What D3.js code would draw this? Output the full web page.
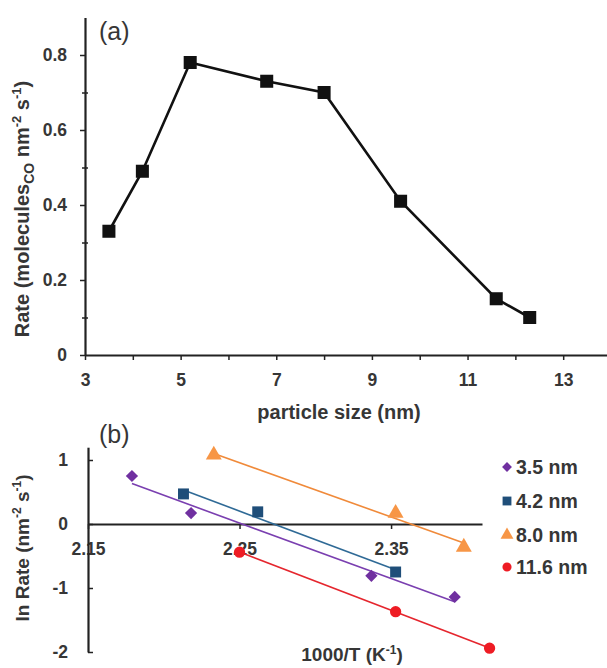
<!DOCTYPE html>
<html><head><meta charset="utf-8">
<script src="https://cdn.jsdelivr.net/npm/d3@7"></script>
<style>
html,body{margin:0;padding:0;background:#fff;}
text{font-family:"Liberation Sans",Arial,sans-serif;}
</style></head>
<body>
<svg id="c" width="607" height="668"></svg>
<script>
// ---- Panel (a) data ----
const particleSize = [3.5, 4.2, 5.2, 6.8, 8.0, 9.6, 11.6, 12.3];
const rateA = [0.33, 0.49, 0.78, 0.73, 0.70, 0.41, 0.15, 0.10];
const xTicksA = [3, 5, 7, 9, 11, 13];
const xMinorA = [4, 6, 8, 10, 12];
const yTicksA = [0, 0.2, 0.4, 0.6, 0.8];
const yMinorA = [0.1, 0.3, 0.5, 0.7];

// ---- Panel (b) data ----
const seriesNames = ["3.5 nm", "4.2 nm", "8.0 nm", "11.6 nm"];
const invT_35 = [2.179, 2.218, 2.337, 2.392];
const lnR_35 = [0.75, 0.17, -0.81, -1.14];
const invT_42 = [2.213, 2.262, 2.353];
const lnR_42 = [0.47, 0.19, -0.75];
const invT_80 = [2.233, 2.353, 2.398];
const lnR_80 = [1.08, 0.17, -0.36];
const invT_116 = [2.250, 2.353, 2.415];
const lnR_116 = [-0.44, -1.37, -1.94];
const xTicksB = [2.15, 2.25, 2.35];
const yTicksB = [1, 0, -1, -2];

const seriesB = [
  {name: seriesNames[0], x: invT_35, y: lnR_35, color: "#7030A0", line: "#7a3fb0", sym: d3.symbolSquare, rot: 45, size: 75},
  {name: seriesNames[1], x: invT_42, y: lnR_42, color: "#1F4E79", line: "#2f6a96", sym: d3.symbolSquare, rot: 0, size: 120},
  {name: seriesNames[2], x: invT_80, y: lnR_80, color: "#F79646", line: "#f08a3a", sym: d3.symbolTriangle, rot: 0, size: 110},
  {name: seriesNames[3], x: invT_116, y: lnR_116, color: "#EE1C24", line: "#e5262e", sym: d3.symbolCircle, rot: 0, size: 100}
];

const svg = d3.select("#c");
const txt = "#363636";

// ================= Panel (a) =================
const xA = d3.scaleLinear().domain([3, 14]).range([85, 611]);
const yA = d3.scaleLinear().domain([0, 0.9]).range([355, 17.5]);

const gA = svg.append("g");
// minor ticks
gA.append("g").attr("transform", `translate(0,${yA(0)})`)
  .call(d3.axisBottom(xA).tickValues(xMinorA).tickSize(5).tickSizeOuter(0).tickFormat(""))
  .call(g => g.select(".domain").remove())
  .selectAll("line").attr("stroke", "#222").attr("stroke-width", 1.5);
gA.append("g").attr("transform", `translate(${xA(3)},0)`)
  .call(d3.axisLeft(yA).tickValues(yMinorA).tickSize(4).tickSizeOuter(0).tickFormat(""))
  .call(g => g.select(".domain").remove())
  .selectAll("line").attr("stroke", "#222").attr("stroke-width", 1.5).attr("x2", 3).attr("x1", -3);

const axXA = gA.append("g").attr("transform", `translate(0,${yA(0)})`)
  .call(d3.axisBottom(xA).tickValues(xTicksA).tickSize(5).tickSizeOuter(0).tickPadding(14).tickFormat(d3.format("d")));
const axYA = gA.append("g").attr("transform", `translate(${xA(3)},0)`)
  .call(d3.axisLeft(yA).tickValues(yTicksA).tickSize(5).tickSizeOuter(0).tickPadding(13).tickFormat(d => d === 0 ? "0" : d3.format(".1f")(d)));
[axXA, axYA].forEach(ax => {
  ax.select(".domain").attr("stroke", "#222").attr("stroke-width", 2.2);
  ax.selectAll(".tick line").attr("stroke", "#222").attr("stroke-width", 1.5);
  ax.selectAll(".tick text").attr("fill", txt).style("font-size", "17.5px").style("font-weight", "bold");
});

const ptsA = particleSize.map((s, i) => [s, rateA[i]]);
gA.append("path").datum(ptsA)
  .attr("fill", "none").attr("stroke", "#111").attr("stroke-width", 2.6)
  .attr("d", d3.line().x(d => xA(d[0])).y(d => yA(d[1])));
gA.selectAll(".mA").data(ptsA).enter().append("path")
  .attr("transform", d => `translate(${xA(d[0])},${yA(d[1])})`)
  .attr("d", d3.symbol().type(d3.symbolSquare).size(170))
  .attr("fill", "#111");

gA.append("text").attr("x", 99).attr("y", 40).attr("fill", txt)
  .style("font-size", "25px").text("(a)");
gA.append("text").attr("x", 339).attr("y", 419).attr("text-anchor", "middle").attr("fill", txt)
  .style("font-size", "20px").style("font-weight", "bold").text("particle size (nm)");

const yLabA = gA.append("text").attr("transform", "translate(29,209) rotate(-90)")
  .attr("text-anchor", "middle").attr("fill", txt)
  .style("font-size", "20px").style("font-weight", "bold");
yLabA.append("tspan").text("Rate (molecules");
yLabA.append("tspan").attr("dy", 5).style("font-size", "14px").text("CO");
yLabA.append("tspan").attr("dy", -5).text(" nm");
yLabA.append("tspan").attr("dy", -8).style("font-size", "13px").text("-2");
yLabA.append("tspan").attr("dy", 8).text(" s");
yLabA.append("tspan").attr("dy", -8).style("font-size", "13px").text("-1");
yLabA.append("tspan").attr("dy", 8).text(")");

// ================= Panel (b) =================
const xB = d3.scaleLinear().domain([2.15, 2.41]).range([88, 482]);
const yB = d3.scaleLinear().domain([-2, 1.2]).range([652, 447.2]);
const gB = svg.append("g");

const axXB = gB.append("g").attr("transform", `translate(0,${yB(0)})`)
  .call(d3.axisBottom(xB).tickValues(xTicksB).tickSize(5).tickSizeOuter(0).tickPadding(14).tickFormat(d3.format(".2f")));
const axYB = gB.append("g").attr("transform", `translate(${xB(2.15)},0)`)
  .call(d3.axisLeft(yB).tickValues(yTicksB).tickSize(-5).tickSizeOuter(0).tickPadding(20).tickFormat(d => d < 0 ? "-" + Math.abs(d) : String(d)));
[axXB, axYB].forEach(ax => {
  ax.select(".domain").attr("stroke", "#222").attr("stroke-width", 2.2);
  ax.selectAll(".tick line").attr("stroke", "#222").attr("stroke-width", 1.5);
  ax.selectAll(".tick text").attr("fill", txt).style("font-size", "17.5px").style("font-weight", "bold");
});

// linear trendlines (least squares, as in the original)
function fit(xs, ys) {
  const mx = d3.mean(xs), my = d3.mean(ys);
  let sxx = 0, sxy = 0;
  xs.forEach((x, i) => { sxx += (x - mx) * (x - mx); sxy += (x - mx) * (ys[i] - my); });
  const b = sxy / sxx, a = my - b * mx;
  const x0 = d3.min(xs), x1 = d3.max(xs);
  return [[x0, a + b * x0], [x1, a + b * x1]];
}
seriesB.forEach(s => {
  gB.append("path").datum(fit(s.x, s.y))
    .attr("fill", "none").attr("stroke", s.line).attr("stroke-width", 1.6)
    .attr("d", d3.line().x(d => xB(d[0])).y(d => yB(d[1])));
});
seriesB.forEach(s => {
  const pts = s.x.map((x, i) => [x, s.y[i]]);
  gB.selectAll(null).data(pts).enter().append("path")
    .attr("transform", d => `translate(${xB(d[0])},${yB(d[1])}) rotate(${s.rot})`)
    .attr("d", d3.symbol().type(s.sym).size(s.size))
    .attr("fill", s.color);
});

gB.append("text").attr("x", 99).attr("y", 443).attr("fill", txt)
  .style("font-size", "25px").text("(b)");

const xLabB = gB.append("text").attr("x", 352).attr("y", 661).attr("text-anchor", "middle").attr("fill", txt)
  .style("font-size", "19px").style("font-weight", "bold");
xLabB.append("tspan").text("1000/T (K");
xLabB.append("tspan").attr("dy", -7).style("font-size", "12px").text("-1");
xLabB.append("tspan").attr("dy", 7).text(")");

const yLabB = gB.append("text").attr("transform", "translate(29,548) rotate(-90)")
  .attr("text-anchor", "middle").attr("fill", txt)
  .style("font-size", "19px").style("font-weight", "bold");
yLabB.append("tspan").text("ln Rate (nm");
yLabB.append("tspan").attr("dy", -8).style("font-size", "12px").text("-2");
yLabB.append("tspan").attr("dy", 8).text(" s");
yLabB.append("tspan").attr("dy", -8).style("font-size", "12px").text("-1");
yLabB.append("tspan").attr("dy", 8).text(")");

// legend
const legY = [467, 501, 535, 567];
seriesB.forEach((s, i) => {
  gB.append("path").attr("transform", `translate(507,${legY[i]}) rotate(${s.rot})`)
    .attr("d", d3.symbol().type(s.sym).size(s.size * 0.65)).attr("fill", s.color);
  gB.append("text").attr("x", 516).attr("y", legY[i] + 7).attr("fill", txt)
    .style("font-size", "19.5px").style("font-weight", "bold").text(s.name);
});
</script>
</body></html>
